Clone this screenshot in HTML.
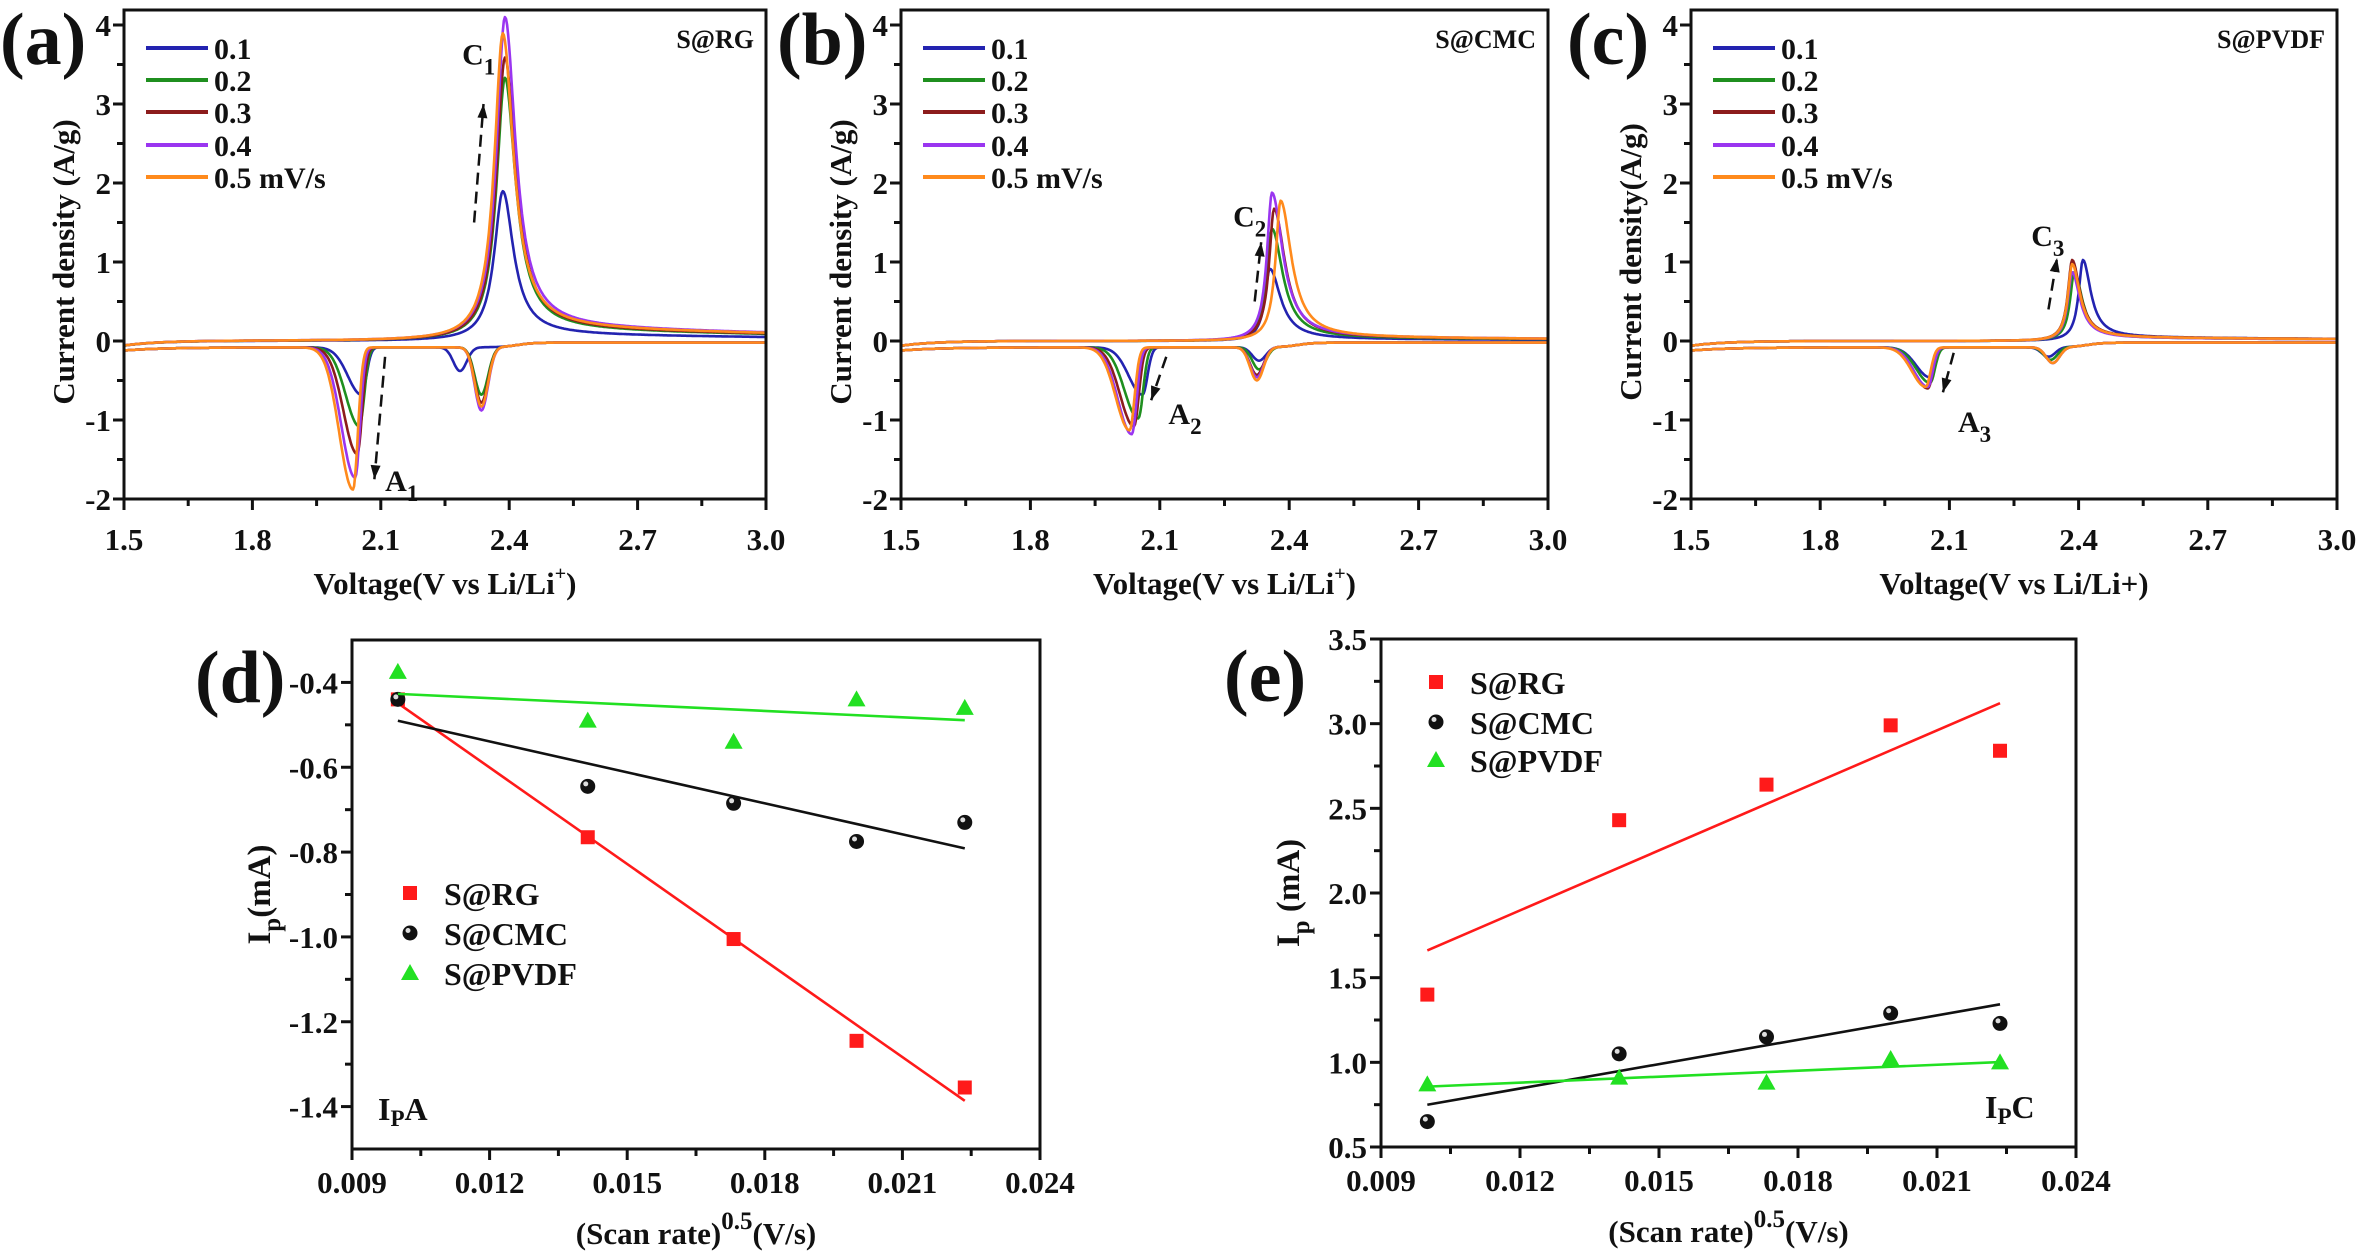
<!DOCTYPE html>
<html><head><meta charset="utf-8"><style>
html,body{margin:0;padding:0;background:#fff;}
svg, svg text{font-family:"Liberation Serif","Times New Roman",serif;font-weight:bold;}
</style></head><body>
<svg id="fig" xmlns="http://www.w3.org/2000/svg" width="2362" height="1255" viewBox="0 0 2362 1255" font-family="Liberation Serif, serif" font-weight="bold"></svg>
<script>
// ---------- data: CV panels (peak parameters) ----------
const scanRates = ["0.1","0.2","0.3","0.4","0.5 mV/s"];
const cvColors = ["#2323b0","#1f8f1f","#8c1c1c","#9a35f0","#ff8a1c"];
// panel a (S@RG)
const aAnodV = [2.385,2.39,2.39,2.39,2.385];
const aAnodH = [1.85,3.25,3.5,4.0,3.8];
const aCatV  = [2.055,2.05,2.045,2.04,2.035];
const aCatD  = [-0.6,-1.0,-1.35,-1.65,-1.8];
const aCat2V = [2.285,2.335,2.335,2.335,2.335];
const aCat2D = [-0.3,-0.6,-0.7,-0.8,-0.75];
// panel b (S@CMC)
const bAnodV = [2.355,2.36,2.365,2.36,2.38];
const bAnodH = [0.9,1.4,1.65,1.85,1.75];
const bCatV  = [2.06,2.05,2.04,2.035,2.03];
const bCatD  = [-0.6,-0.9,-1.0,-1.1,-1.05];
const bCat2V = [2.33,2.33,2.325,2.325,2.325];
const bCat2D = [-0.17,-0.28,-0.35,-0.38,-0.42];
// panel c (S@PVDF)
const cAnodV = [2.41,2.39,2.385,2.385,2.385];
const cAnodH = [1.0,0.85,1.0,0.85,0.95];
const cCatV  = [2.055,2.055,2.05,2.05,2.045];
const cCatD  = [-0.38,-0.45,-0.52,-0.5,-0.5];
const cCat2V = [2.33,2.335,2.34,2.34,2.34];
const cCat2D = [-0.12,-0.16,-0.2,-0.2,-0.2];

// ---------- data: Ip vs sqrt(scan rate) ----------
const sqrtRate = [0.01,0.01414,0.01732,0.02,0.02236];
const dRG   = [-0.44,-0.765,-1.005,-1.245,-1.355];
const dCMC  = [-0.44,-0.645,-0.685,-0.775,-0.73];
const dPVDF = [-0.375,-0.49,-0.54,-0.44,-0.46];
const eRG   = [1.40,2.43,2.64,2.99,2.84];
const eCMC  = [0.65,1.05,1.15,1.29,1.23];
const ePVDF = [0.87,0.91,0.88,1.02,1.00];
const cvXTicks = ["1.5","1.8","2.1","2.4","2.7","3.0"];
const cvYTicks = ["-2","-1","0","1","2","3","4"];
const ipXTicks = ["0.009","0.012","0.015","0.018","0.021","0.024"];
const dYTicks = ["-1.4","-1.2","-1.0","-0.8","-0.6","-0.4"];
const eYTicks = ["0.5","1.0","1.5","2.0","2.5","3.0","3.5"];

const NS="http://www.w3.org/2000/svg";
const FF="Liberation Serif, serif";
const svg=document.getElementById('fig');
function mk(tag,attrs,parent){const e=document.createElementNS(NS,tag);for(const k in attrs)e.setAttribute(k,attrs[k]);if(tag==='text'){e.setAttribute('font-family',FF);e.setAttribute('font-weight','bold');}(parent||svg).appendChild(e);return e;}
function txt(s,x,y,size,anchor,parent,name){const t=mk('text',{x:x,y:y,'font-size':size,'text-anchor':anchor||'start',fill:'#111'},parent);t.textContent=s;


return t;}

function axesBox(g,x0,x1,yT,yB){
  const r=mk('rect',{x:x0,y:yT,width:x1-x0,height:yB-yT,fill:'none',stroke:'#111','stroke-width':3},g);
  
  
}
function tickX(g,X,vals,minorStep,yB,lblY,size){
  vals.forEach(v=>{const x=X(+v);mk('line',{x1:x,x2:x,y1:yB,y2:yB+11,stroke:'#111','stroke-width':3},g);
    txt(v,x,lblY,size,'middle',g,'x-tick-label');});
  const a=+vals[0],b=+vals[vals.length-1];
  for(let v=a+minorStep;v<b;v+=2*minorStep){const x=X(v);mk('line',{x1:x,x2:x,y1:yB,y2:yB+7,stroke:'#111','stroke-width':3},g);}
}
function tickY(g,Y,vals,minorStep,x0,lblX,size){
  vals.forEach(v=>{const y=Y(+v);mk('line',{x1:x0-11,x2:x0,y1:y,y2:y,stroke:'#111','stroke-width':3},g);
    txt(v,lblX,y+11,size,'end',g,'y-tick-label');});
  const a=+vals[0],b=+vals[vals.length-1];
  for(let v=a+minorStep;v<b;v+=2*minorStep){const y=Y(v);mk('line',{x1:x0-7,x2:x0,y1:y,y2:y,stroke:'#111','stroke-width':3},g);}
}

// ---------- CV panels ----------
function gauss(x,c,wl,wr){const w=x<c?wl:wr;return Math.exp(-((x-c)/w)*((x-c)/w));}
function cvPanel(cfg){
  const g=mk('g',{});
  
  
  const X=v=>cfg.x0+(v-1.5)/1.5*(cfg.x1-cfg.x0);
  const Y=v=>341-79*v;
  const P=cfg.p;
  for(let i=0;i<5;i++){
    let d='';
    for(let x=1.5;x<=3.0001;x+=0.0025){
      const xp=P.av[i],h=P.ah[i];
      const w=x<xp?P.wl:P.wr;
      let y=h/(1+((x-xp)/w)*((x-xp)/w));
      y+=P.tail*h/(1+Math.exp(-(x-xp)/0.02))*Math.exp(-(x-xp)/0.9);
      y+=-0.06*Math.exp(-(x-1.5)/0.08);
      d+=(d?'L':'M')+X(x).toFixed(1)+','+Y(y).toFixed(1);
    }
    for(let x=3.0;x>=1.4999;x-=0.0025){
      let base=-0.08-0.04*Math.exp(-(x-1.5)/0.1);
      base=base+(0.06)/(1+Math.exp(-(x-2.42)/0.02));
      let y=base+P.cd[i]*gauss(x,P.cv[i],0.045,0.016)+P.c2d[i]*gauss(x,P.c2v[i],0.022,0.022);
      d+='L'+X(x).toFixed(1)+','+Y(y).toFixed(1);
    }
    const p=mk('path',{d:d,fill:'none',stroke:cvColors[i],'stroke-width':2.6,'stroke-linejoin':'round'},g);
    
    
  }
  axesBox(g,cfg.x0,cfg.x1,10,499);
  tickX(g,X,cvXTicks,0.15,499,550,31);
  tickY(g,Y,cvYTicks,0.5,cfg.x0,cfg.x0-13,31);
  txt(cfg.letter,cfg.x0-124,64,74,'start',g,'panel-letter');
  const yt=mk('text',{x:0,y:0,'font-size':31,'text-anchor':'middle',fill:'#111',transform:`translate(${cfg.x0-50},262) rotate(-90)`},g);
  yt.textContent=cfg.ytitle;
  
  
  const xt=mk('text',{x:(cfg.x0+cfg.x1)/2,y:594,'font-size':31,'text-anchor':'middle',fill:'#111'},g);
  
  
  if(cfg.sup){xt.innerHTML='Voltage(V vs Li/Li<tspan dy="-14" font-size="20">+</tspan><tspan dy="14">)</tspan>';}
  else xt.textContent='Voltage(V vs Li/Li+)';
  const rows=[48,80,112,145,177];
  for(let i=0;i<5;i++){
    const l=mk('line',{x1:cfg.x0+22,x2:cfg.x0+84,y1:rows[i],y2:rows[i],stroke:cvColors[i],'stroke-width':4},g);
    
    
    txt(scanRates[i],cfg.x0+90,rows[i]+11,30,'start',g,'legend-entry');
  }
  txt(cfg.sample,cfg.x1-12,48,26,'end',g,'sample-label');
  const A=cfg.ann;
  function arrow(a){
    const l=mk('line',{x1:X(a[0]),y1:Y(a[1]),x2:X(a[2]),y2:Y(a[3]),stroke:'#111','stroke-width':2.5,'stroke-dasharray':'12,7'},g);
    
    
    const ang=Math.atan2(Y(a[3])-Y(a[1]),X(a[2])-X(a[0]));
    const tx=X(a[2]),ty=Y(a[3]);
    const pts=[[tx,ty],[tx-14*Math.cos(ang)+5*Math.sin(ang),ty-14*Math.sin(ang)-5*Math.cos(ang)],[tx-14*Math.cos(ang)-5*Math.sin(ang),ty-14*Math.sin(ang)+5*Math.cos(ang)]];
    const h=mk('polygon',{points:pts.map(p=>p.join(',')).join(' '),fill:'#111'},g);
    
    
  }
  arrow(A.cArrow);arrow(A.aArrow);
  function lab(s,sub,x,y){const t=mk('text',{x:X(x),y:Y(y),'font-size':30,fill:'#111'},g);
    t.innerHTML=s+'<tspan dy="10" font-size="23">'+sub+'</tspan>';
    
    }
  lab(cfg.cName,cfg.idx,A.cLab[0],A.cLab[1]);
  lab('A',cfg.idx,A.aLab[0],A.aLab[1]);
}
cvPanel({name:'panel-a',letter:'(a)',x0:124,x1:766,sample:'S@RG',ytitle:'Current density (A/g)',sup:true,idx:'1',cName:'C',
  p:{av:aAnodV,ah:aAnodH,cv:aCatV,cd:aCatD,c2v:aCat2V,c2d:aCat2D,wl:0.024,wr:0.03,tail:0.05},
  ann:{cArrow:[2.318,1.5,2.34,3.0],aArrow:[2.11,-0.2,2.085,-1.75],cLab:[2.29,3.5],aLab:[2.11,-1.9]}});
cvPanel({name:'panel-b',letter:'(b)',x0:901,x1:1548,sample:'S@CMC',ytitle:'Current density (A/g)',sup:true,idx:'2',cName:'C',
  p:{av:bAnodV,ah:bAnodH,cv:bCatV,cd:bCatD,c2v:bCat2V,c2d:bCat2D,wl:0.014,wr:0.03,tail:0.03},
  ann:{cArrow:[2.32,0.5,2.335,1.25],aArrow:[2.115,-0.2,2.08,-0.75],cLab:[2.27,1.45],aLab:[2.12,-1.05]}});
cvPanel({name:'panel-c',letter:'(c)',x0:1691,x1:2337,sample:'S@PVDF',ytitle:'Current density(A/g)',sup:false,idx:'3',cName:'C',
  p:{av:cAnodV,ah:cAnodH,cv:cCatV,cd:cCatD,c2v:cCat2V,c2d:cCat2D,wl:0.012,wr:0.022,tail:0.05},
  ann:{cArrow:[2.33,0.4,2.35,1.05],aArrow:[2.11,-0.15,2.085,-0.65],cLab:[2.29,1.2],aLab:[2.12,-1.15]}});

// ---------- Ip panels ----------
function fit(xs,ys){const n=xs.length;const mx=xs.reduce((a,b)=>a+b)/n,my=ys.reduce((a,b)=>a+b)/n;
  let sxy=0,sxx=0;for(let i=0;i<n;i++){sxy+=(xs[i]-mx)*(ys[i]-my);sxx+=(xs[i]-mx)*(xs[i]-mx);}const s=sxy/sxx;return [s,my-s*mx];}
function marker(g,type,x,y,color){
  let e;
  if(type==='sq') e=mk('rect',{x:x-7,y:y-7,width:14,height:14,fill:'#ff1a1a'},g);
  else if(type==='ci'){e=mk('circle',{cx:x,cy:y,r:7.5,fill:'#111'},g);
    const h=mk('circle',{cx:x-2,cy:y-2.5,r:2.5,fill:'#ddd'},g);}
  else e=mk('polygon',{points:`${x},${y-9} ${x-9},${y+7} ${x+9},${y+7}`,fill:'#22e022'},g);
  
  
}
function ipPanel(cfg){
  const g=mk('g',{});
  
  
  const X=v=>cfg.x0+(v-0.009)/0.015*(cfg.x1-cfg.x0);
  const Y=v=>cfg.yB-(v-cfg.ymin)/(cfg.ymax-cfg.ymin)*(cfg.yB-cfg.yT);
  const series=[[cfg.s[0],'sq','#ff1a1a'],[cfg.s[1],'ci','#111'],[cfg.s[2],'tr','#22e022']];
  series.forEach(([ys,type,col])=>{
    const [s,b]=fit(sqrtRate,ys);
    const x0=sqrtRate[0],x1=sqrtRate[sqrtRate.length-1];
    const l=mk('line',{x1:X(x0),y1:Y(s*x0+b),x2:X(x1),y2:Y(s*x1+b),stroke:col,'stroke-width':2.6},g);
    
    
    ys.forEach((v,i)=>marker(g,type,X(sqrtRate[i]),Y(v),col));
  });
  axesBox(g,cfg.x0,cfg.x1,cfg.yT,cfg.yB);
  tickX(g,X,ipXTicks,0.0015,cfg.yB,cfg.yB+44,31);
  tickY(g,Y,cfg.yt,cfg.ystep/2,cfg.x0,cfg.x0-14,31);
  txt(cfg.letter,cfg.x0-157,cfg.yT+62,74,'start',g,'panel-letter');
  const yt=mk('text',{x:0,y:0,'font-size':33,'text-anchor':'middle',fill:'#111',transform:`translate(${cfg.x0-82},${(cfg.yT+cfg.yB)/2}) rotate(-90)`},g);
  yt.innerHTML='I<tspan dy="10" font-size="25">p</tspan><tspan dy="-10">'+cfg.ytitle+'</tspan>';
  
  
  const xt=mk('text',{x:(cfg.x0+cfg.x1)/2,y:cfg.yB+95,'font-size':31,'text-anchor':'middle',fill:'#111'},g);
  xt.innerHTML='(Scan rate)<tspan dy="-15" font-size="25">0.5</tspan><tspan dy="15">(V/s)</tspan>';
  
  
  const names=['S@RG','S@CMC','S@PVDF'];
  cfg.leg.forEach((ly,i)=>{marker(g,series[i][1],cfg.legX,ly,series[i][2]);txt(names[i],cfg.legX+34,ly+12,32,'start',g,'legend-entry');});
  const t=mk('text',{x:cfg.tag[0],y:cfg.tag[1],'font-size':32,fill:'#111'},g);
  t.innerHTML='I<tspan dy="6" font-size="23">P</tspan><tspan dy="-6">'+cfg.tagS+'</tspan>';
  
  
}
ipPanel({name:'panel-d',letter:'(d)',x0:352,x1:1040,yT:640,yB:1149,ymin:-1.5,ymax:-0.3,yt:dYTicks,ystep:0.2,ytitle:'(mA)',
  s:[dRG,dCMC,dPVDF],legX:410,leg:[893,933,973],tag:[378,1120],tagS:'A'});
ipPanel({name:'panel-e',letter:'(e)',x0:1381,x1:2076,yT:639,yB:1147,ymin:0.5,ymax:3.5,yt:eYTicks,ystep:0.5,ytitle:' (mA)',
  s:[eRG,eCMC,ePVDF],legX:1436,leg:[682,722,760],tag:[1985,1118],tagS:'C'});
</script>
</body></html>
